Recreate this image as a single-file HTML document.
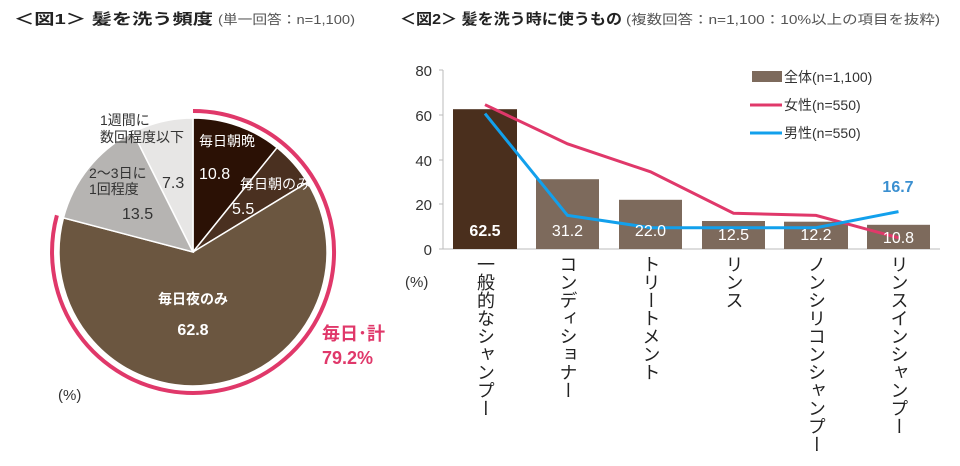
<!DOCTYPE html>
<html><head><meta charset="utf-8"><style>
body{margin:0;background:#fff;}
svg{display:block;font-family:"Liberation Sans","Noto Sans CJK JP",sans-serif;}
</style></head><body>
<svg width="960" height="466" viewBox="0 0 960 466">
<g font-size="15" fill="#222">
<text x="14" y="24" font-weight="bold" textLength="199" lengthAdjust="spacingAndGlyphs">＜図1＞  髪を洗う頻度</text>
<text x="218" y="24" font-size="13" fill="#555" textLength="137" lengthAdjust="spacingAndGlyphs">(単一回答：n=1,100)</text>
<text x="400" y="24" font-weight="bold" textLength="222" lengthAdjust="spacingAndGlyphs">＜図2＞  髪を洗う時に使うもの</text>
<text x="626" y="24" font-size="13" fill="#555" textLength="314" lengthAdjust="spacingAndGlyphs">(複数回答：n=1,100：10%以上の項目を抜粋)</text>
</g>
<!-- pie -->
<g stroke="#fff" stroke-width="1.5">
<path d="M193,252 L193,118 A134,134 0 0 1 277.1,147.7 Z" fill="#2b1105"/>
<path d="M193,252 L277.1,147.7 A134,134 0 0 1 307.5,182.3 Z" fill="#4a3020"/>
<path d="M193,252 L307.5,182.3 A134,134 0 1 1 63.4,217.9 Z" fill="#6b5640"/>
<path d="M193,252 L63.4,217.9 A134,134 0 0 1 132.9,132.2 Z" fill="#b6b4b2"/>
<path d="M193,252 L132.9,132.2 A134,134 0 0 1 193,118 Z" fill="#e7e6e5"/>
</g>
<path d="M193,111 A141,141 0 1 1 56.9,215.3" fill="none" stroke="#e0386a" stroke-width="4"/>
<g font-size="14" fill="#fff">
<text x="199" y="146">毎日朝晩</text>
<text x="199" y="179" font-size="16">10.8</text>
<text x="240" y="189">毎日朝のみ</text>
<text x="232" y="214" font-size="16">5.5</text>
<text x="193" y="304" text-anchor="middle" font-weight="bold">毎日夜のみ</text>
<text x="193" y="335" text-anchor="middle" font-weight="bold" font-size="16">62.8</text>
</g>
<g font-size="14" fill="#333">
<text x="100" y="125">1週間に</text>
<text x="100" y="142">数回程度以下</text>
<text x="89" y="178">2〜3日に</text>
<text x="89" y="194">1回程度</text>
<text x="122" y="219" font-size="16">13.5</text>
<text x="162" y="188" font-size="16">7.3</text>
<text x="58" y="400" font-size="15">(%)</text>
</g>
<text x="322" y="340" font-size="18" font-weight="bold" fill="#e0386a">毎日･計</text>
<text x="322" y="364" font-size="18" font-weight="bold" fill="#e0386a">79.2%</text>
<!-- bar chart axes -->
<line x1="443" y1="70" x2="443" y2="249" stroke="#bbb"/>
<line x1="443" y1="249" x2="940" y2="249" stroke="#bbb"/>
<g stroke="#bbb"><line x1="439" y1="70" x2="443" y2="70"/><line x1="439" y1="115" x2="443" y2="115"/><line x1="439" y1="160" x2="443" y2="160"/><line x1="439" y1="204" x2="443" y2="204"/><line x1="439" y1="249" x2="443" y2="249"/></g>
<g font-size="15" fill="#333" text-anchor="end">
<text x="432" y="76">80</text><text x="432" y="121">60</text><text x="432" y="166">40</text><text x="432" y="210">20</text><text x="432" y="255">0</text>
</g>
<text x="405" y="287" font-size="15" fill="#333">(%)</text>
<rect x="453" y="109.2" width="64" height="139.8" fill="#4a2f1d"/>
<g fill="#7d6a5c">
<rect x="536" y="179.2" width="63" height="69.8"/>
<rect x="619" y="199.8" width="63" height="49.2"/>
<rect x="702" y="221" width="63" height="28"/>
<rect x="784" y="221.7" width="64" height="27.3"/>
<rect x="867" y="224.8" width="63" height="24.2"/>
</g>
<polyline points="485,104.7 567.5,143.8 650.5,171.8 733.5,213.2 816,215.4 898.5,237.8" fill="none" stroke="#e0386a" stroke-width="3"/>
<polyline points="485,113.6 567.5,215.4 650.5,227.7 733.5,227.7 816,227.7 898.5,211.6" fill="none" stroke="#12a0ec" stroke-width="3"/>
<g font-size="16" fill="#fff" text-anchor="middle">
<text x="485" y="236" font-weight="bold">62.5</text>
<text x="567.5" y="236">31.2</text>
<text x="650.5" y="236">22.0</text>
<text x="733.5" y="240">12.5</text>
<text x="816" y="240">12.2</text>
<text x="898.5" y="243">10.8</text>
</g>
<text x="898" y="192" font-size="16" font-weight="bold" fill="#3a8fd0" text-anchor="middle">16.7</text>
<!-- legend -->
<rect x="752" y="71" width="30" height="11" fill="#7d6a5c"/>
<line x1="750" y1="105" x2="782" y2="105" stroke="#e0386a" stroke-width="3"/>
<line x1="750" y1="133" x2="782" y2="133" stroke="#12a0ec" stroke-width="3"/>
<g font-size="14" fill="#333">
<text x="784" y="82">全体(n=1,100)</text>
<text x="784" y="110">女性(n=550)</text>
<text x="784" y="138">男性(n=550)</text>
</g>
<g font-size="18" fill="#222" style="writing-mode:vertical-rl">
<text x="485" y="255">一般的なシャンプー</text>
<text x="567.5" y="255">コンディショナー</text>
<text x="650.5" y="255">トリートメント</text>
<text x="733.5" y="255">リンス</text>
<text x="816" y="255">ノンシリコンシャンプー</text>
<text x="898.5" y="255">リンスインシャンプー</text>
</g>
</svg>
</body></html>
